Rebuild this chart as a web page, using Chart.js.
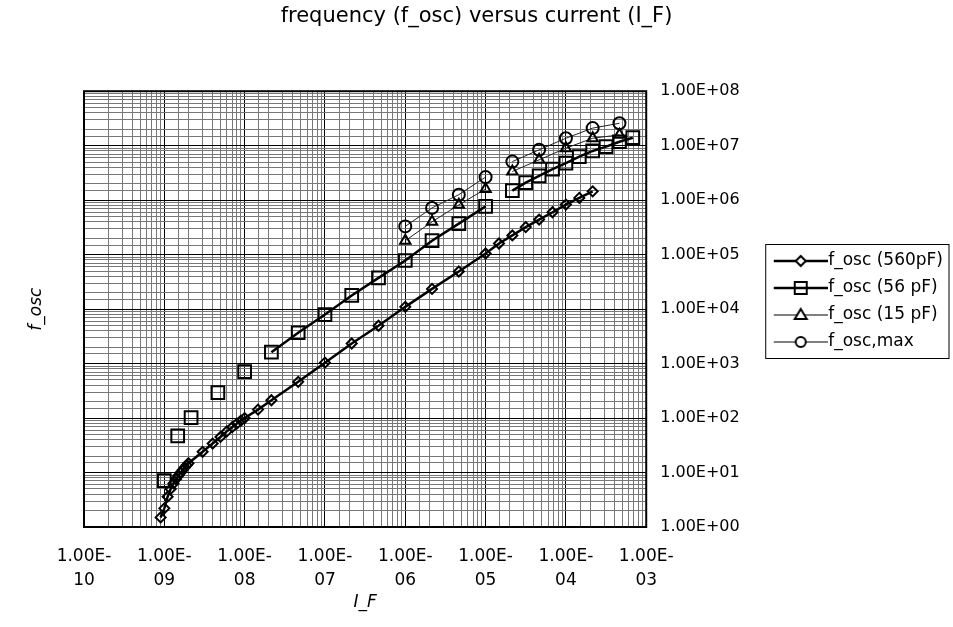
<!DOCTYPE html>
<html lang="en">
  <head>
    <meta charset="UTF-8" />
    <title>frequency versus current</title>
    <script src="https://cdn.jsdelivr.net/npm/chart.js@4.4.1/dist/chart.umd.min.js"></script>
    <style>
      body { margin: 0; background: #fff; }
      #wrap { width: 953px; height: 627px; }
    </style>
  </head>
  <body>
    <div id="wrap"><canvas id="chart"></canvas></div>

    <script>
      // current values (A) and frequencies (Hz)
      const I_560 = [9e-10, 1e-9, 1.1e-9, 1.2e-9, 1.3e-9, 1.4e-9, 1.5e-9, 1.6e-9, 1.7e-9, 1.8e-9, 1.9e-9, 2e-9,
                     3e-9, 4e-9, 5e-9, 6e-9, 7e-9, 8e-9, 9e-9, 1e-8, 1.468e-8, 2.154e-8, 4.642e-8,
                     1e-7, 2.154e-7, 4.642e-7, 1e-6, 2.154e-6, 4.642e-6, 1e-5, 1.468e-5, 2.154e-5,
                     3.162e-5, 4.642e-5, 6.813e-5, 1e-4, 1.468e-4, 2.154e-4];
      const F_560 = [1.5, 2.2, 3.6, 5.0, 6.3, 7.6, 8.8, 10, 11.2, 12.4, 13.6, 14.8,
                     24, 34, 45, 57, 68, 79, 90, 100, 143, 212, 462,
                     1040, 2340, 4950, 1.1e4, 2.35e4, 4.9e4, 1.05e5, 1.6e5, 2.25e5,
                     3.2e5, 4.4e5, 6e5, 8.3e5, 1.1e6, 1.45e6];

      // null = empty cell, breaks the line
      const I_56 = [1e-9, 1.2e-9, 1.468e-9, 1.8e-9, 2.154e-9, 3.162e-9, 4.642e-9, 6.813e-9, 1e-8, 1.468e-8,
                    2.154e-8, 4.642e-8, 1e-7, 2.154e-7, 4.642e-7, 1e-6, 2.154e-6, 4.642e-6, 1e-5, 1.468e-5,
                    2.154e-5, 3.162e-5, 4.642e-5, 6.813e-5, 1e-4, 1.468e-4, 2.154e-4, 3.162e-4, 4.642e-4, 6.813e-4];
      const F_56 = [7.1, null, 47, null, 102, null, 293, null, 710, null,
                    1620, 3680, 7950, 1.78e4, 3.74e4, 7.8e4, 1.8e5, 3.7e5, 7.7e5, null,
                    1.5e6, 2.1e6, 2.8e6, 3.7e6, 4.8e6, 6.3e6, 8.0e6, 9.6e6, 1.18e7, 1.4e7];

      const I_15 = [1e-6, 2.154e-6, 4.642e-6, 1e-5, 1.468e-5, 2.154e-5, 4.642e-5, 1e-4, 2.154e-4, 4.642e-4];
      const F_15 = [1.8e5, 4.0e5, 8.2e5, 1.6e6, null, 3.36e6, 5.5e6, 9.0e6, 1.37e7, 1.58e7];

      const I_max = [1e-6, 2.154e-6, 4.642e-6, 1e-5, 1.468e-5, 2.154e-5, 4.642e-5, 1e-4, 2.154e-4, 4.642e-4];
      const F_max = [3.3e5, 7.2e5, 1.26e6, 2.65e6, null, 5.1e6, 8.4e6, 1.37e7, 2.1e7, 2.58e7];

      const seriesNames = ['f_osc (560pF)', 'f_osc (56 pF)', 'f_osc (15 pF)', 'f_osc,max'];

      function pts(xs, ys) {
        return xs.map((x, i) => ({ x: x, y: ys[i] }));
      }

      function isPow10(v) {
        const l = Math.log10(v);
        return Math.abs(l - Math.round(l)) < 1e-6;
      }

      function pad2(n) {
        return String(Math.abs(n)).padStart(2, '0');
      }

      // little line + marker pictures for the legend
      // (picture is centred on the legend box, so the left part is left blank)
      function makeIcon(shape, lineWidth) {
        const c = document.createElement('canvas');
        c.width = 72; c.height = 18;
        const g = c.getContext('2d');
        const cx = 45, cy = 9;
        g.strokeStyle = '#000';
        g.lineWidth = lineWidth;
        g.beginPath(); g.moveTo(18, cy); g.lineTo(72, cy); g.stroke();
        g.lineWidth = 2;
        g.fillStyle = '#fff';
        g.beginPath();
        if (shape === 'diamond') {
          g.moveTo(cx, cy - 5); g.lineTo(cx + 5, cy); g.lineTo(cx, cy + 5); g.lineTo(cx - 5, cy); g.closePath(); g.fill();
        } else if (shape === 'square') {
          g.rect(cx - 6, cy - 6, 12, 12);
        } else if (shape === 'triangle') {
          g.moveTo(cx, cy - 6); g.lineTo(cx + 6, cy + 4); g.lineTo(cx - 6, cy + 4); g.closePath(); g.fill();
        } else {
          g.arc(cx, cy, 5, 0, Math.PI * 2); g.fill();
        }
        g.stroke();
        return c;
      }
      const icons = [makeIcon('diamond', 2.5), makeIcon('square', 2.5), makeIcon('triangle', 1), makeIcon('circle', 1)];

      // frame round the plot and round the legend
      const framePlugin = {
        id: 'frame',
        afterDraw(chart) {
          const { ctx, chartArea: a, legend } = chart;
          ctx.save();
          ctx.strokeStyle = '#000';
          ctx.lineWidth = 2;
          ctx.strokeRect(a.left, a.top, a.right - a.left, a.bottom - a.top);
          const hb = legend.legendHitBoxes;
          if (hb && hb.length) {
            let l = Infinity, t = Infinity, r = -Infinity, b = -Infinity;
            hb.forEach(h => {
              l = Math.min(l, h.left); t = Math.min(t, h.top);
              r = Math.max(r, h.left + h.width); b = Math.max(b, h.top + h.height);
            });
            ctx.lineWidth = 1;
            ctx.strokeRect(l + 2, t - 8, Math.min(r + 6, 951) - (l + 2), b - t + 16);
          }
          ctx.restore();
        }
      };

      const ctx = document.getElementById('chart').getContext('2d');
      const myChart = new Chart(ctx, {
        type: 'scatter',
        data: {
          datasets: [{
            label: seriesNames[0],
            data: pts(I_560, F_560),
            showLine: true,
            borderColor: '#000',
            borderWidth: 2.5,
            pointStyle: 'rectRot',
            pointRadius: 5,
            pointBorderWidth: 2,
            pointBorderColor: '#000',
            pointBackgroundColor: 'rgba(0,0,0,0)'
          }, {
            label: seriesNames[1],
            data: pts(I_56, F_56),
            showLine: true,
            borderColor: '#000',
            borderWidth: 2.5,
            pointStyle: 'rect',
            pointRadius: 9,
            pointBorderWidth: 2,
            pointBorderColor: '#000',
            pointBackgroundColor: 'rgba(0,0,0,0)'
          }, {
            label: seriesNames[2],
            data: pts(I_15, F_15),
            showLine: true,
            borderColor: '#222',
            borderWidth: 1,
            pointStyle: 'triangle',
            pointRadius: 6,
            pointBorderWidth: 2,
            pointBorderColor: '#000',
            pointBackgroundColor: 'rgba(0,0,0,0)'
          }, {
            label: seriesNames[3],
            data: pts(I_max, F_max),
            showLine: true,
            borderColor: '#222',
            borderWidth: 1,
            pointStyle: 'circle',
            pointRadius: 6,
            pointBorderWidth: 2,
            pointBorderColor: '#000',
            pointBackgroundColor: 'rgba(0,0,0,0)'
          }]
        },
        options: {
          responsive: true,
          maintainAspectRatio: false,
          animation: false,
          spanGaps: false,
          layout: { padding: { left: 0, right: 0, top: 0, bottom: 0 } },
          plugins: {
            title: {
              display: true,
              text: 'frequency (f_osc) versus current (I_F)',
              color: '#000',
              font: { family: 'DejaVu Sans', size: 21, weight: 'normal' },
              padding: { top: 4, bottom: 62 }
            },
            legend: {
              position: 'right',
              maxWidth: 260,
              title: {
                // empty title with negative padding lifts the items a little
                display: true,
                text: '',
                font: { size: 1, lineHeight: 1 },
                padding: { top: -13, bottom: -12 }
              },
              labels: {
                color: '#000',
                font: { family: 'DejaVu Sans', size: 17 },
                usePointStyle: true,
                pointStyleWidth: 56,
                padding: 10,
                generateLabels(chart) {
                  return chart.data.datasets.map((ds, i) => ({
                    text: ds.label,
                    pointStyle: icons[i],
                    datasetIndex: i,
                    lineWidth: 0,
                    fillStyle: 'rgba(0,0,0,0)',
                    strokeStyle: 'rgba(0,0,0,0)',
                    fontColor: '#000'
                  }));
                }
              }
            },
            tooltip: { enabled: false }
          },
          scales: {
            x: {
              type: 'logarithmic',
              min: 1e-10,
              max: 1e-3,
              afterFit(scale) { scale.height = 100; },
              border: { display: false },
              grid: {
                drawTicks: false,
                color: c => isPow10(c.tick.value) ? '#000' : '#777',
                lineWidth: 1
              },
              ticks: {
                autoSkip: false,
                maxRotation: 0,
                padding: 17,
                color: '#000',
                font: { family: 'DejaVu Sans', size: 17, lineHeight: 1.45 },
                callback: v => isPow10(v) ? ['1.00E-', pad2(Math.round(Math.log10(v)))] : ''
              },
              title: {
                display: true,
                text: 'I_F',
                color: '#000',
                font: { family: 'DejaVu Sans', size: 17, style: 'italic' },
                padding: { top: 4, bottom: 14 }
              }
            },
            y: {
              type: 'logarithmic',
              position: 'right',
              min: 1,
              max: 1e8,
              border: { display: false },
              grid: {
                drawTicks: false,
                color: c => isPow10(c.tick.value) ? '#000' : '#777',
                lineWidth: 1
              },
              ticks: {
                autoSkip: false,
                padding: 14,
                color: '#000',
                font: { family: 'DejaVu Sans', size: 16 },
                callback: v => isPow10(v) ? '1.00E+' + pad2(Math.round(Math.log10(v))) : ''
              }
            },
            y2: {
              type: 'logarithmic',
              position: 'left',
              min: 1,
              max: 1e8,
              afterFit(scale) { scale.width = 84; },
              border: { display: false },
              grid: { display: false },
              ticks: { display: false },
              title: {
                display: true,
                text: 'f_osc',
                color: '#000',
                font: { family: 'DejaVu Sans', size: 17, style: 'italic' },
                padding: { top: 26 }
              }
            }
          }
        },
        plugins: [framePlugin]
      });
    </script>
  </body>
</html>
